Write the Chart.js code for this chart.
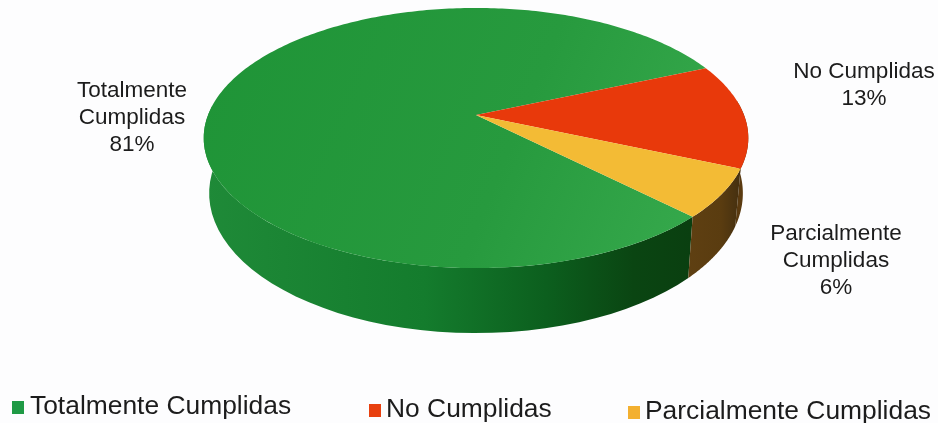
<!DOCTYPE html>
<html><head><meta charset="utf-8">
<style>html,body{margin:0;padding:0;background:#fdfdfe}#w{position:relative;width:938px;height:423px}</style>
<script src="https://cdn.jsdelivr.net/npm/chart.js@4/dist/chart.umd.min.js"></script>
</head><body><div id="w"><canvas id="c" width="938" height="423"></canvas></div>
<script>
const categories = ["Totalmente Cumplidas", "No Cumplidas", "Parcialmente Cumplidas"];
const values = [81, 13, 6];
const topColors = ["#2a9a40", "#e8390b", "#f3bb35"];
const legendColors = ["#1f9a45", "#e8400f", "#f3b030"];
const labelLines = [["Totalmente", "Cumplidas", "81%"], ["No Cumplidas", "13%"], ["Parcialmente", "Cumplidas", "6%"]];
const labelAnchors = [[132, 91], [864, 72], [836, 234]];
const legendAnchors = [[12, 30], [369, 386], [628, 645]];
const legendY = [407, 410, 412];

const CX = 476, CY = 115, RX = 268, RY = 126, P = 0.177, H = 53.5, BOTTOM_X = 0.98;
function project(a, h) {
  const u = Math.cos(a), v = Math.sin(a), w = 1 - P * v;
  const sx = h ? BOTTOM_X : 1;
  return [CX + sx * RX * u / w, CY + (RY * v + h) / w];
}
function sideFill(ctx, i) {
  const stops = i === 0
    ? [[0, "#1f8a38"], [0.45, "#147c2d"], [0.7, "#0c5f1e"], [0.88, "#0a4512"], [1, "#0a3f10"]]
    : i === 1 ? [[0, "#5a3a10"], [1, "#5a3a10"]]
    : [[0, "#5f4012"], [0.6, "#5a3c10"], [1, "#3f2c10"]];
  const g = ctx.createLinearGradient(i === 2 ? 685 : 205, 0, i === 2 ? 745 : 692, 0);
  stops.forEach(s => g.addColorStop(s[0], s[1]));
  return g;
}
function topFill(ctx, i) {
  if (i !== 0) return topColors[i];
  const g = ctx.createLinearGradient(205, 60, 690, 260);
  g.addColorStop(0, "#1f9437");
  g.addColorStop(0.6, "#279a3e");
  g.addColorStop(1, "#36a94c");
  return g;
}
const pie3d = {
  id: "pie3d",
  beforeDatasetDraw(chart) {
    const ctx = chart.ctx, arcs = chart.getDatasetMeta(0).data;
    ctx.save();
    arcs.forEach((arc, i) => {
      const a0 = arc.startAngle, a1 = arc.endAngle, n = 90;
      const clipped = [];
      for (let k = 0; k <= n; k++) {
        const a = a0 + (a1 - a0) * k / n;
        if (Math.sin(a) > -0.12) clipped.push(a);
      }
      if (!clipped.length) return;
      ctx.beginPath();
      clipped.forEach((a, k) => { const p = project(a, 0); k ? ctx.lineTo(p[0], p[1]) : ctx.moveTo(p[0], p[1]); });
      clipped.slice().reverse().forEach(a => { const p = project(a, H); ctx.lineTo(p[0], p[1]); });
      ctx.closePath();
      ctx.fillStyle = sideFill(ctx, i);
      ctx.fill();
    });
    arcs.forEach((arc, i) => {
      const a0 = arc.startAngle, a1 = arc.endAngle, n = Math.max(8, Math.ceil((a1 - a0) * 60));
      ctx.beginPath();
      ctx.moveTo(CX, CY);
      for (let k = 0; k <= n; k++) { const p = project(a0 + (a1 - a0) * k / n, 0); ctx.lineTo(p[0], p[1]); }
      ctx.closePath();
      ctx.fillStyle = topFill(ctx, i);
      ctx.fill();
    });
    ctx.restore();
    return false;
  },
  afterDraw(chart) {
    const ctx = chart.ctx;
    ctx.save();
    ctx.fillStyle = "#1c1c1c";
    ctx.textBaseline = "middle";
    ctx.font = "22.5px 'Liberation Sans', Arial, sans-serif";
    ctx.textAlign = "center";
    labelLines.forEach((lines, i) => {
      lines.forEach((t, k) => ctx.fillText(t, labelAnchors[i][0], labelAnchors[i][1] + k * 27));
    });
    ctx.textAlign = "left";
    ctx.font = "26.4px 'Liberation Sans', Arial, sans-serif";
    categories.forEach((t, i) => {
      ctx.fillStyle = legendColors[i];
      ctx.fillRect(legendAnchors[i][0], legendY[i] - 6, 12, 13);
      ctx.fillStyle = "#1c1c1c";
      ctx.fillText(t, legendAnchors[i][1], legendY[i]);
    });
    ctx.restore();
  }
};
new Chart(document.getElementById("c"), {
  type: "pie",
  data: { labels: categories, datasets: [{ data: values, backgroundColor: topColors, borderWidth: 0 }] },
  options: {
    responsive: false, animation: false, rotation: 135,
    plugins: { legend: { display: false }, tooltip: { enabled: false } }
  },
  plugins: [pie3d]
});
</script></body></html>
